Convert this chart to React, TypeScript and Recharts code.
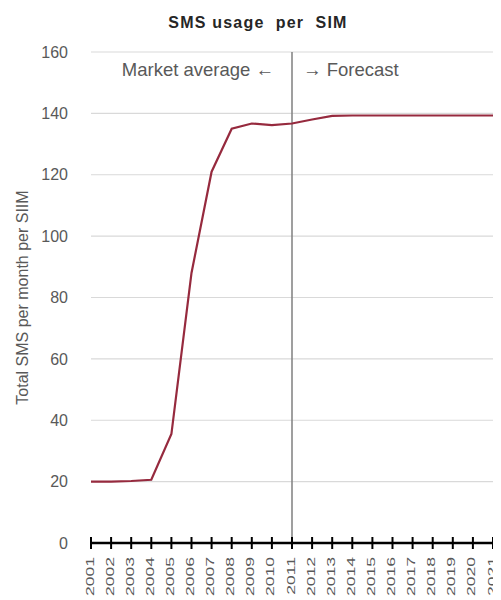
import { LineChart, Line, XAxis, YAxis, CartesianGrid, ReferenceLine } from "recharts";

const years = [
  "2001", "2002", "2003", "2004", "2005", "2006", "2007", "2008", "2009", "2010", "2011",
  "2012", "2013", "2014", "2015", "2016", "2017", "2018", "2019", "2020", "2021",
];
const smsPerSim = [
  20, 20, 20.2, 20.6, 35.5, 88, 121, 135, 136.7, 136.2, 136.7,
  138, 139.2, 139.3, 139.3, 139.3, 139.3, 139.3, 139.3, 139.3, 139.3,
];
const yTicks = [0, 20, 40, 60, 80, 100, 120, 140, 160];
const splitYear = "2011";

const data = years.map((year, i) => ({ year, sms: smsPerSim[i] }));

const FONT = "'Liberation Sans', Arial, sans-serif";
const GREY = "#595959";

// year labels run bottom-to-top, stretched along the text direction
function YearTick(props: { x?: number; y?: number; payload?: { value: string } }) {
  const { x = 0, y = 0, payload } = props;
  return (
    <g>
      <line x1={x} x2={x} y1={y - 6} y2={y + 6} stroke="#000" strokeWidth={2} />
      <text
        transform={`translate(${x + 2.5},${y + 14}) rotate(-90) scale(1.6,1)`}
        textAnchor="end"
        fontSize={11}
        fontFamily={FONT}
        fill={GREY}
      >
        {payload?.value}
      </text>
    </g>
  );
}

function SplitLabel(props: { viewBox?: { x?: number; y?: number } }) {
  const x = props.viewBox?.x ?? 0;
  const y = props.viewBox?.y ?? 0;
  return (
    <g fontFamily={FONT} fontSize={18.5} fill={GREY}>
      <text x={x - 18} y={y + 24} textAnchor="end">Market average ←</text>
      <text x={x + 11} y={y + 24} textAnchor="start">→ Forecast</text>
    </g>
  );
}

function AxisTitle(props: { viewBox?: { x?: number; y?: number; height?: number } }) {
  const vb = props.viewBox ?? {};
  const cy = (vb.y ?? 0) + (vb.height ?? 0) / 2;
  return (
    <text
      transform={`translate(20,${cy}) rotate(-90)`}
      textAnchor="middle"
      fontFamily={FONT}
      fontSize={16}
      fill={GREY}
    >
      Total SMS per month per SIIM
    </text>
  );
}

export default function App() {
  return (
    <div style={{ position: "relative", width: 493, height: 592 }}>
      <div
        style={{
          position: "absolute",
          left: 0,
          top: 7,
          width: 500,
          textAlign: "center",
          fontFamily: FONT,
          fontWeight: 700,
          fontSize: 16,
          lineHeight: "16px",
          letterSpacing: 1.2,
          color: "#262626",
          whiteSpace: "pre",
        }}
      >
        {"SMS usage  per  SIM"}
      </div>
      <LineChart
        width={493}
        height={592}
        data={data}
        margin={{ top: 44, right: 8, bottom: 7, left: 0 }}
        style={{ overflow: "visible" }}
      >
        <CartesianGrid vertical={false} stroke="#d9d9d9" strokeWidth={1.2} />
        <XAxis
          dataKey="year"
          height={50}
          interval={0}
          tickLine={false}
          tickSize={0}
          tickMargin={0}
          axisLine={{ stroke: "#000", strokeWidth: 2.5 }}
          tick={<YearTick />}
        />
        <YAxis
          width={83}
          domain={[0, 160]}
          ticks={yTicks}
          axisLine={false}
          tickLine={false}
          tickSize={0}
          tickMargin={23}
          tick={{ fontSize: 16, fontFamily: FONT, fill: GREY }}
          label={{ content: <AxisTitle /> }}
        />
        <ReferenceLine
          x={splitYear}
          stroke="#7f7f7f"
          strokeWidth={1.5}
          label={<SplitLabel />}
        />
        <Line
          type="linear"
          dataKey="sms"
          stroke="#962a3e"
          strokeWidth={2.2}
          dot={false}
          isAnimationActive={false}
        />
      </LineChart>
    </div>
  );
}
